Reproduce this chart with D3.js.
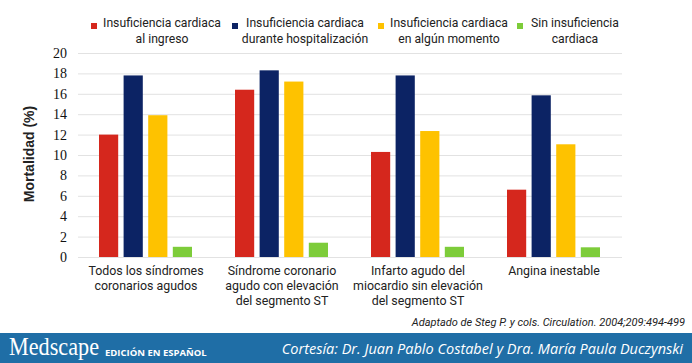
<!DOCTYPE html>
<meta charset="utf-8">
<style>
body { margin: 0; background: #fff; }
text { font-family: Roboto, "Liberation Sans", sans-serif; fill: #222; }
.tick text { font-family: "Liberation Serif", "DejaVu Serif", serif; font-size: 14px; fill: #111; }
</style>
<body>
<script src="https://cdn.jsdelivr.net/npm/d3@7"></script>
<script>

// data
var groups = [
    ["Todos los síndromes", "coronarios agudos"],
    ["Síndrome coronario", "agudo con elevación", "del segmento ST"],
    ["Infarto agudo del", "miocardio sin elevación", "del segmento ST"],
    ["Angina inestable"]
];
var seriesNames = [
    ["Insuficiencia cardiaca", "al ingreso"],
    ["Insuficiencia cardiaca", "durante hospitalización"],
    ["Insuficiencia cardiaca", "en algún momento"],
    ["Sin insuficiencia", "cardiaca"]
];
var alIngreso = [12, 16.4, 10.3, 6.6];
var duranteHosp = [17.8, 18.3, 17.8, 15.85];
var algunMomento = [13.9, 17.2, 12.35, 11.05];
var sinIC = [1.0, 1.4, 1.0, 0.95];
var yTicks = [0, 2, 4, 6, 8, 10, 12, 14, 16, 18, 20];
var colors = ["#d5271d", "#0c2364", "#fec200", "#7dcc3a"];

var values = [alIngreso, duranteHosp, algunMomento, sinIC];

var width = 692, height = 363;
var svg = d3.select("body").append("svg")
    .attr("width", width)
    .attr("height", height);

// scales
var x0 = d3.scaleBand()
    .domain(d3.range(groups.length))
    .range([78, 622]);
var x1 = d3.scaleBand()
    .domain(d3.range(values.length))
    .range([21, 114])
    .paddingInner(0.22);
var y = d3.scaleLinear()
    .domain([0, 20])
    .range([257, 53]);

// y axis with gridlines
var yAxis = svg.append("g")
    .attr("transform", "translate(78,0)")
    .call(d3.axisLeft(y).tickValues(yTicks).tickSize(-544).tickPadding(11));
yAxis.select(".domain").remove();
yAxis.selectAll(".tick line").attr("stroke", "#e2e2e2");

// y title
svg.append("text")
    .attr("transform", "translate(34,154) rotate(-90)")
    .attr("text-anchor", "middle")
    .style("font-family", "'Liberation Sans', Arial, sans-serif")
    .style("font-weight", "bold")
    .style("font-size", "14px")
    .text("Mortalidad (%)");

// bars
var g = svg.selectAll(".grp")
    .data(groups)
    .enter().append("g")
    .attr("transform", function(d, i) { return "translate(" + x0(i) + ",0)"; });

g.selectAll("rect")
    .data(function(d, i) { return values.map(function(s) { return s[i]; }); })
    .enter().append("rect")
    .attr("x", function(d, j) { return x1(j); })
    .attr("width", x1.bandwidth())
    .attr("y", function(d) { return y(d); })
    .attr("height", function(d) { return y(0) - y(d); })
    .attr("fill", function(d, j) { return colors[j]; });

// category labels
g.append("text")
    .attr("text-anchor", "middle")
    .style("font-size", "12.4px")
    .selectAll("tspan")
    .data(function(d) { return d; })
    .enter().append("tspan")
    .attr("x", x0.bandwidth() / 2)
    .attr("y", function(d, k) { return 275 + k * 15; })
    .text(function(d) { return d; });

// legend
var legendX = [91, 232, 378, 517];
var legendTextX = [162, 305, 449, 575];
var lg = svg.selectAll(".leg")
    .data(seriesNames)
    .enter().append("g");

lg.append("rect")
    .attr("x", function(d, i) { return legendX[i]; })
    .attr("y", 23)
    .attr("width", 6).attr("height", 6)
    .attr("fill", function(d, i) { return colors[i]; });

lg.append("text")
    .attr("text-anchor", "middle")
    .style("font-size", "12.2px")
    .each(function(d, i) {
        var t = d3.select(this);
        d.forEach(function(line, k) {
            t.append("tspan")
                .attr("x", legendTextX[i])
                .attr("y", 27 + k * 16)
                .text(line);
        });
    });

// source note
svg.append("text")
    .attr("x", 685).attr("y", 326)
    .attr("text-anchor", "end")
    .style("font-style", "italic")
    .style("font-size", "11px")
    .text("Adaptado de Steg P. y cols. Circulation. 2004;209:494-499");

// banner
svg.append("rect")
    .attr("x", 0).attr("y", 333)
    .attr("width", width).attr("height", 30)
    .attr("fill", "#1f6ea6");

svg.append("text")
    .attr("x", 9).attr("y", 355)
    .attr("textLength", 90)
    .attr("lengthAdjust", "spacingAndGlyphs")
    .style("font-family", "'Liberation Serif', serif")
    .style("font-size", "25px")
    .style("fill", "#fff")
    .text("Medscape");

svg.append("text")
    .attr("x", 105).attr("y", 356)
    .style("font-family", "'Open Sans', sans-serif")
    .style("font-weight", "bold")
    .style("font-size", "9.5px")
    .style("fill", "#fff")
    .text("EDICIÓN EN ESPAÑOL");

svg.append("text")
    .attr("x", 683).attr("y", 354)
    .attr("text-anchor", "end")
    .style("font-family", "'Open Sans', sans-serif")
    .style("font-style", "italic")
    .style("font-size", "14.5px")
    .style("fill", "#fff")
    .text("Cortesía: Dr. Juan Pablo Costabel y Dra. María Paula Duczynski");

</script>
</body>
